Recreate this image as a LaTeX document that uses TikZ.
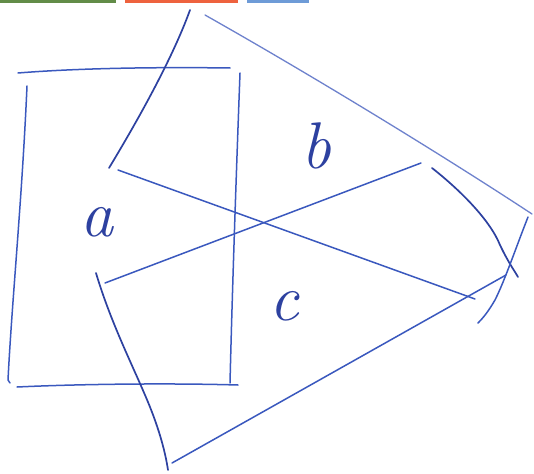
\documentclass[tikz,border=0pt]{standalone}
\usepackage{tikz}
\definecolor{ink}{RGB}{58,88,190}
\definecolor{inkdark}{RGB}{45,65,160}
\definecolor{inklight}{RGB}{110,130,205}
\definecolor{bargreen}{RGB}{98,140,72}
\definecolor{barorange}{RGB}{238,98,62}
\definecolor{barblue}{RGB}{110,155,215}
\tikzset{
  pen/.style={draw=ink, line width=1.5pt, line cap=round, line join=round},
  darkpen/.style={draw=inkdark, line width=1.7pt, line cap=round, line join=round},
  lightpen/.style={draw=inklight, line width=1.3pt, line cap=round, line join=round},
  lbl/.style={text=inkdark, font=\fontsize{66}{66}\selectfont\itshape, inner sep=0pt},
}
\begin{document}
\begin{tikzpicture}[x=1pt,y=-1pt]
\useasboundingbox (0,0) rectangle (534,473);
\fill[white] (0,0) rectangle (534,473);
% top bars
\fill[bargreen] (0,0) rectangle (116,3);
\fill[barorange] (125,0) rectangle (238,3);
\fill[barblue] (247,0) rectangle (309,3);
% coordinates
\coordinate (aTL) at (18,73);
\coordinate (aTR) at (230,68);
\coordinate (aLT) at (27,86);
\coordinate (aLB) at (8,380);
\coordinate (aBL) at (17,387);
\coordinate (aBR) at (238,385);
\coordinate (aRT) at (240,73);
\coordinate (aRB) at (230,383);
\coordinate (bTL) at (190,10);
\coordinate (bL) at (109,168);
\coordinate (bTopS) at (205,15);
\coordinate (bTopE) at (532,214);
\coordinate (bR1) at (432,168);
\coordinate (bR1e) at (518,277);
\coordinate (bR2) at (528,217);
\coordinate (bR2e) at (478,323);
\coordinate (bBs) at (118,170);
\coordinate (bBe) at (475,299);
\coordinate (cTs) at (105,283);
\coordinate (cTe) at (421,163);
\coordinate (cBs) at (172,463);
\coordinate (cBe) at (506,275);
\coordinate (cLs) at (96,273);
\coordinate (cLe) at (168,470);
% square a
\draw[pen] (aTL) .. controls (80,68) and (160,67) .. (aTR);
\draw[pen] (aLT) .. controls (22,200) and (12,300) .. (aLB) -- (10,383);
\draw[pen] (aBL) .. controls (80,384) and (170,383) .. (aBR);
\draw[pen] (aRT) .. controls (236,180) and (232,300) .. (aRB);
% shape b
\draw[darkpen] (bTL) .. controls (172,60) and (135,125) .. (bL);
\draw[lightpen] (bTopS) .. controls (320,80) and (450,160) .. (bTopE);
\draw[darkpen] (bR1) .. controls (460,190) and (490,220) .. (500,245) .. controls (508,262) and (514,270) .. (bR1e);
\draw[pen] (bR2) .. controls (515,250) and (505,280) .. (495,300) .. controls (488,312) and (483,318) .. (bR2e);
\draw[pen] (bBs) -- (bBe);
% shape c
\draw[pen] (cTs) -- (cTe);
\draw[pen] (cBs) -- (cBe);
\draw[darkpen] (cLs) .. controls (110,320) and (130,360) .. (145,395) .. controls (158,425) and (165,450) .. (cLe);
% labels
\node[lbl] (la) at (97,222) {a};
\node[lbl] (lb) at (316,146) {b};
\node[lbl] (lc) at (284,306) {c};
\end{tikzpicture}
\end{document}
